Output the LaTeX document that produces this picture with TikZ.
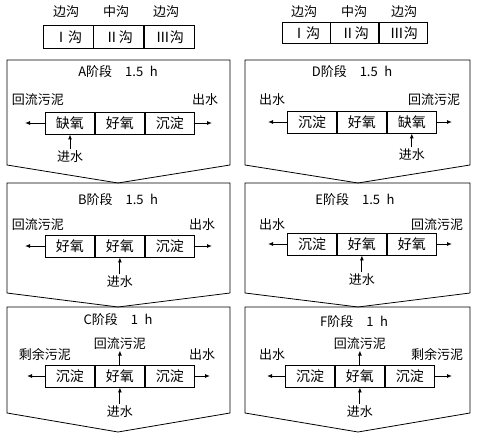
\documentclass[tikz,border=0pt]{standalone}
\usepackage{fontspec}
\setmainfont{Noto Sans CJK SC}
\usetikzlibrary{positioning,arrows.meta}

\tikzset{
  txt/.style={inner sep=1pt, font=\fontsize{13}{13}\selectfont},
  cell/.style={draw, line width=0.9pt, minimum width=49pt, minimum height=22pt,
    inner sep=0pt, font=\fontsize{14}{14}\selectfont},
  hcell/.style={cell, minimum width=50pt, minimum height=23pt},
  stage/.style={draw, line width=0.8pt},
  flow/.style={-{Latex[length=5pt,width=4pt]}, line width=0.9pt}
}

\begin{document}
\begin{tikzpicture}[x=1pt,y=-1pt]
  \useasboundingbox (0,0) rectangle (480,436);

  % ditch names
  \node[txt] (hl1) at (66,12) {边沟};
  \node[txt] (hl2) at (116,12) {中沟};
  \node[txt] (hl3) at (166,12) {边沟};
  \node[hcell] (gl1) at (68,37) {Ⅰ沟};
  \node[hcell, right=0pt of gl1] (gl2) {Ⅱ沟};
  \node[hcell, right=0pt of gl2] (gl3) {Ⅲ沟};

  \node[txt] (hr1) at (304,12) {边沟};
  \node[txt] (hr2) at (354,12) {中沟};
  \node[txt] (hr3) at (404,12) {边沟};
  \node[hcell, minimum width=48pt, minimum height=21pt] (gr1) at (306,33) {Ⅰ沟};
  \node[hcell, minimum width=48pt, minimum height=21pt, right=0pt of gr1] (gr2) {Ⅱ沟};
  \node[hcell, minimum width=48pt, minimum height=21pt, right=0pt of gr2] (gr3) {Ⅲ沟};

  % stage frames
  \foreach \l/\r/\m in {7/230/118, 245/470/358}
    \foreach \t/\s/\v in {60/165/183, 183/293/307, 307/413/432}
      \draw[stage] (\l,\t) -- (\r,\t) -- (\r,\s) -- (\m,\v) -- (\l,\s) -- cycle;

  % A
  \node[txt] (tA) at (118,72) {A阶段\quad 1.5\enspace h};
  \node[cell] (a1) at (70,123) {缺氧};
  \node[cell, right=0pt of a1] (a2) {好氧};
  \node[cell, right=0pt of a2] (a3) {沉淀};
  \node[txt] (rA) at (38,100) {回流污泥};
  \node[txt] (oA) at (205,100) {出水};
  \node[txt, below=15pt of a1] (iA) {进水};
  \coordinate (aL) at (25,123);
  \coordinate (aR) at (212,123);
  \draw[flow] (a1.west) -- (aL);
  \draw[flow] (a3.east) -- (aR);
  \draw[flow] (iA) -- (a1);

  % B
  \node[txt] (tB) at (118,200) {B阶段\quad 1.5\enspace h};
  \node[cell] (b1) at (70,246) {好氧};
  \node[cell, right=0pt of b1] (b2) {好氧};
  \node[cell, right=0pt of b2] (b3) {沉淀};
  \node[txt] (rB) at (38,225) {回流污泥};
  \node[txt] (oB) at (202,225) {出水};
  \node[txt, below=17pt of b2] (iB) {进水};
  \coordinate (bL) at (25,246);
  \coordinate (bR) at (212,246);
  \draw[flow] (b1.west) -- (bL);
  \draw[flow] (b3.east) -- (bR);
  \draw[flow] (iB) -- (b2);

  % C
  \node[txt] (tC) at (118,320) {C阶段\quad 1\enspace h};
  \node[cell] (c1) at (70,376) {沉淀};
  \node[cell, right=0pt of c1] (c2) {好氧};
  \node[cell, right=0pt of c2] (c3) {沉淀};
  \node[txt, above=14pt of c2] (rC) {回流污泥};
  \node[txt] (sC) at (45,355) {剩余污泥};
  \node[txt] (oC) at (202,355) {出水};
  \node[txt, below=17pt of c2] (iC) {进水};
  \coordinate (cL) at (27,376);
  \coordinate (cR) at (210,376);
  \draw[flow] (c1.west) -- (cL);
  \draw[flow] (c3.east) -- (cR);
  \draw[flow] (c2) -- (rC);
  \draw[flow] (iC) -- (c2);

  % D
  \node[txt] (tD) at (352,72) {D阶段\quad 1.5\enspace h};
  \node[cell] (d1) at (312,122) {沉淀};
  \node[cell, right=0pt of d1] (d2) {好氧};
  \node[cell, right=0pt of d2] (d3) {缺氧};
  \node[txt] (oD) at (272,100) {出水};
  \node[txt] (rD) at (434,100) {回流污泥};
  \node[txt, below=14pt of d3] (iD) {进水};
  \coordinate (dL) at (268,122);
  \coordinate (dR) at (452,122);
  \draw[flow] (d1.west) -- (dL);
  \draw[flow] (d3.east) -- (dR);
  \draw[flow] (iD) -- (d3);

  % E
  \node[txt] (tE) at (355,200) {E阶段\quad 1.5\enspace h};
  \node[cell] (e1) at (312,244) {沉淀};
  \node[cell, right=0pt of e1] (e2) {好氧};
  \node[cell, right=0pt of e2] (e3) {好氧};
  \node[txt] (oE) at (272,225) {出水};
  \node[txt] (rE) at (437,225) {回流污泥};
  \node[txt, below=17pt of e2] (iE) {进水};
  \coordinate (eL) at (268,244);
  \coordinate (eR) at (452,244);
  \draw[flow] (e1.west) -- (eL);
  \draw[flow] (e3.east) -- (eR);
  \draw[flow] (iE) -- (e2);

  % F
  \node[txt] (tF) at (354,322) {F阶段\quad 1\enspace h};
  \node[cell] (f1) at (310,376) {沉淀};
  \node[cell, right=0pt of f1] (f2) {好氧};
  \node[cell, right=0pt of f2] (f3) {沉淀};
  \node[txt, above=14pt of f2] (rF) {回流污泥};
  \node[txt] (oF) at (272,355) {出水};
  \node[txt] (sF) at (437,355) {剩余污泥};
  \node[txt, below=17pt of f2] (iF) {进水};
  \coordinate (fL) at (267,376);
  \coordinate (fR) at (452,376);
  \draw[flow] (f1.west) -- (fL);
  \draw[flow] (f3.east) -- (fR);
  \draw[flow] (f2) -- (rF);
  \draw[flow] (iF) -- (f2);
\end{tikzpicture}
\end{document}
